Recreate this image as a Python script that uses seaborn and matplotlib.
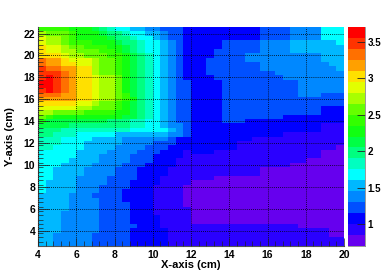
import numpy as np
import pandas as pd
import matplotlib
matplotlib.use('Agg')
import matplotlib.pyplot as plt
import seaborn as sns
from matplotlib.colors import ListedColormap
from matplotlib.ticker import FixedLocator

# colour band of each cell, 0 = lowest band, j = highest band, top row first
rows = [
    'bbbbaaa9876655443332' '22222222233334444666',
    'dcccbaaa988766554332' '22222222233334444666',
    'eddcbaaaa98876654332' '22222222233334444666',
    'eddcbbbaaa9887665432' '22223333344445555556',
    'feedccbbbaa987665432' '22223333344445555555',
    'feeddcccbba987665432' '22233333344445555555',
    'fffeddcccbba98765432' '22233334444444444555',
    'hggfeeedccba98765432' '22333334444444444555',
    'hggffeedccba98765432' '22333333344444444455',
    'ihhggffdccba98765432' '22333333344444444445',
    'iiihgffdccba98765432' '22333333333444444444',
    'ijihgffeddca98765432' '22233333333344444444',
    'jjihgffeddca98765433' '22223333333333444444',
    'jjihgffeddca98765433' '22223333333333444444',
    'ijihgffeddca98765433' '22223333333333444444',
    'hhhggffeddcb98765433' '22223333333333444333',
    'gggggffeddcba8765433' '22223333333333333333',
    'fffffeedccba98765433' '22223333333333333333',
    'eeeeeddcccba98765433' '22223333333333333222',
    'ddccccbbbbaa98765433' '22223333333333333222',
    'cbaaaaaaaaa998765433' '22223333333322222222',
    'a9999999988877665433' '22223332222222222222',
    '99998888888877665443' '22222222222222222111',
    '88877777777766666543' '22222222222222222111',
    '88777666665555555443' '22222222222211111111',
    '77766665555444444322' '22222222111111111111',
    '77766655555444433322' '22222211111111111111',
    '77666655554444333222' '22222211111111111110',
    '66666555544443332221' '22211111111111111000',
    '66666555444433322221' '11111111111111111000',
    '66665555444433322211' '11111111111111100000',
    '66655554444333222211' '11111111111110000000',
    '66555544443332222111' '11111111100000000000',
    '66555544443332222111' '11111111100000000000',
    '66555444433332221111' '11100000000000000000',
    '65555444433322221111' '00000000000000000000',
    '65555444333322211110' '00000000000000000000',
    '65555444333222211110' '00000000000000000000',
    '55554443333222211110' '00000000000000000000',
    '55554444333222211110' '00000000000000000000',
    '55554444333322211110' '00000000000000000000',
    '55554444333322211111' '00000000000000000000',
    '55544444333322211111' '00000000000000000000',
    '55544444333322221111' '00000000000000000000',
    '55544444333322221111' '00000000000000000000',
    '55544444333332221111' '11111111111111000000',
    '55544444333322222111' '11111111111111111100',
    '55444443333322222111' '11111111111111111100',
    '55444443333322222111' '11111111111111111111',
    '55444443333322222111' '11111111111111111111',
]

band_colors = ['#6600ee', '#2a00ff', '#0000ff', '#0050ff', '#0088ff',
               '#00b8ff', '#00ffff', '#00ffc0', '#00ff80', '#00ff44',
               '#11ff11', '#33ff00', '#66ff00', '#a8ff00', '#e2ff00',
               '#ffe000', '#ffa000', '#ff7000', '#ff3300', '#ff0000']
band_values = [0.775, 0.925, 1.075, 1.225, 1.375, 1.525, 1.675, 1.825, 1.975, 2.125,
               2.275, 2.425, 2.575, 2.725, 2.875, 3.025, 3.175, 3.325, 3.475, 3.625]
band_keys = '0123456789abcdefghij'

x_ticks = [4, 6, 8, 10, 12, 14, 16, 18, 20]
y_ticks = [4, 6, 8, 10, 12, 14, 16, 18, 20, 22]
z_ticks = [1, 1.5, 2, 2.5, 3, 3.5]

plt.rcParams['font.family'] = ['Liberation Sans', 'DejaVu Sans']
plt.rcParams['font.weight'] = 'bold'

z = pd.DataFrame([[band_values[band_keys.index(c)] for c in r] for r in rows])

fig = plt.figure(figsize = (3.82, 2.73), dpi = 100)
ax = fig.add_axes([38/382, 1 - 246/273, 306/382, 219/273])
cax = fig.add_axes([348/382, 1 - 246/273, 17/382, 219/273])

sns.heatmap(z, ax = ax, cbar_ax = cax, cmap = ListedColormap(band_colors), vmin = 0.7, vmax = 3.7,
            xticklabels = False, yticklabels = False)

# heatmap axes count cells, each cell is 0.4 cm
def xpos(v):
    return (np.asarray(v, dtype = float) - 4) / 0.4

def ypos(v):
    return (22.6 - np.asarray(v, dtype = float)) / 0.4

ax.set_xticks(xpos(x_ticks))
ax.set_xticklabels(x_ticks, fontsize = 7.5)
ax.set_yticks(ypos(y_ticks))
ax.set_yticklabels(y_ticks, fontsize = 7.5, rotation = 0)
ax.xaxis.set_minor_locator(FixedLocator(np.arange(0, 41, 1)))
ax.yaxis.set_minor_locator(FixedLocator(np.arange(1, 50, 1)))
ax.tick_params(axis = 'x', which = 'major', direction = 'in', length = 6, width = 0.5, pad = 3, color = '#222222')
ax.tick_params(axis = 'y', which = 'major', direction = 'in', length = 8, width = 0.5, pad = 2, color = '#222222')
ax.tick_params(which = 'minor', direction = 'in', length = 3.5, width = 0.5, color = '#222222')
ax.grid(True, which = 'major', color = 'black', linestyle = (0, (1, 1.5)), linewidth = 0.6)
ax.set_axisbelow(False)
ax.set_xlabel('X-axis (cm)', fontsize = 8, fontweight = 'bold')
ax.xaxis.set_label_coords(0.5, -0.062)
ax.set_ylabel('Y-axis (cm)', fontsize = 8, fontweight = 'bold')
ax.yaxis.set_label_coords(-0.075, 0.5)

for side in ['left', 'bottom']:
    ax.spines[side].set_visible(True)
    ax.spines[side].set_color('#555555')
    ax.spines[side].set_linewidth(0.8)

cax.yaxis.set_major_locator(FixedLocator(z_ticks))
cax.set_yticklabels(['1', '1.5', '2', '2.5', '3', '3.5'], fontsize = 7)
cax.tick_params(axis = 'y', direction = 'in', length = 6, width = 0.6, pad = 2, color = '#222222')
cax.minorticks_off()
for side in ['right', 'bottom']:
    cax.spines[side].set_visible(True)
    cax.spines[side].set_color('#888888')
    cax.spines[side].set_linewidth(0.6)

plt.savefig('out.png', dpi = 100)
